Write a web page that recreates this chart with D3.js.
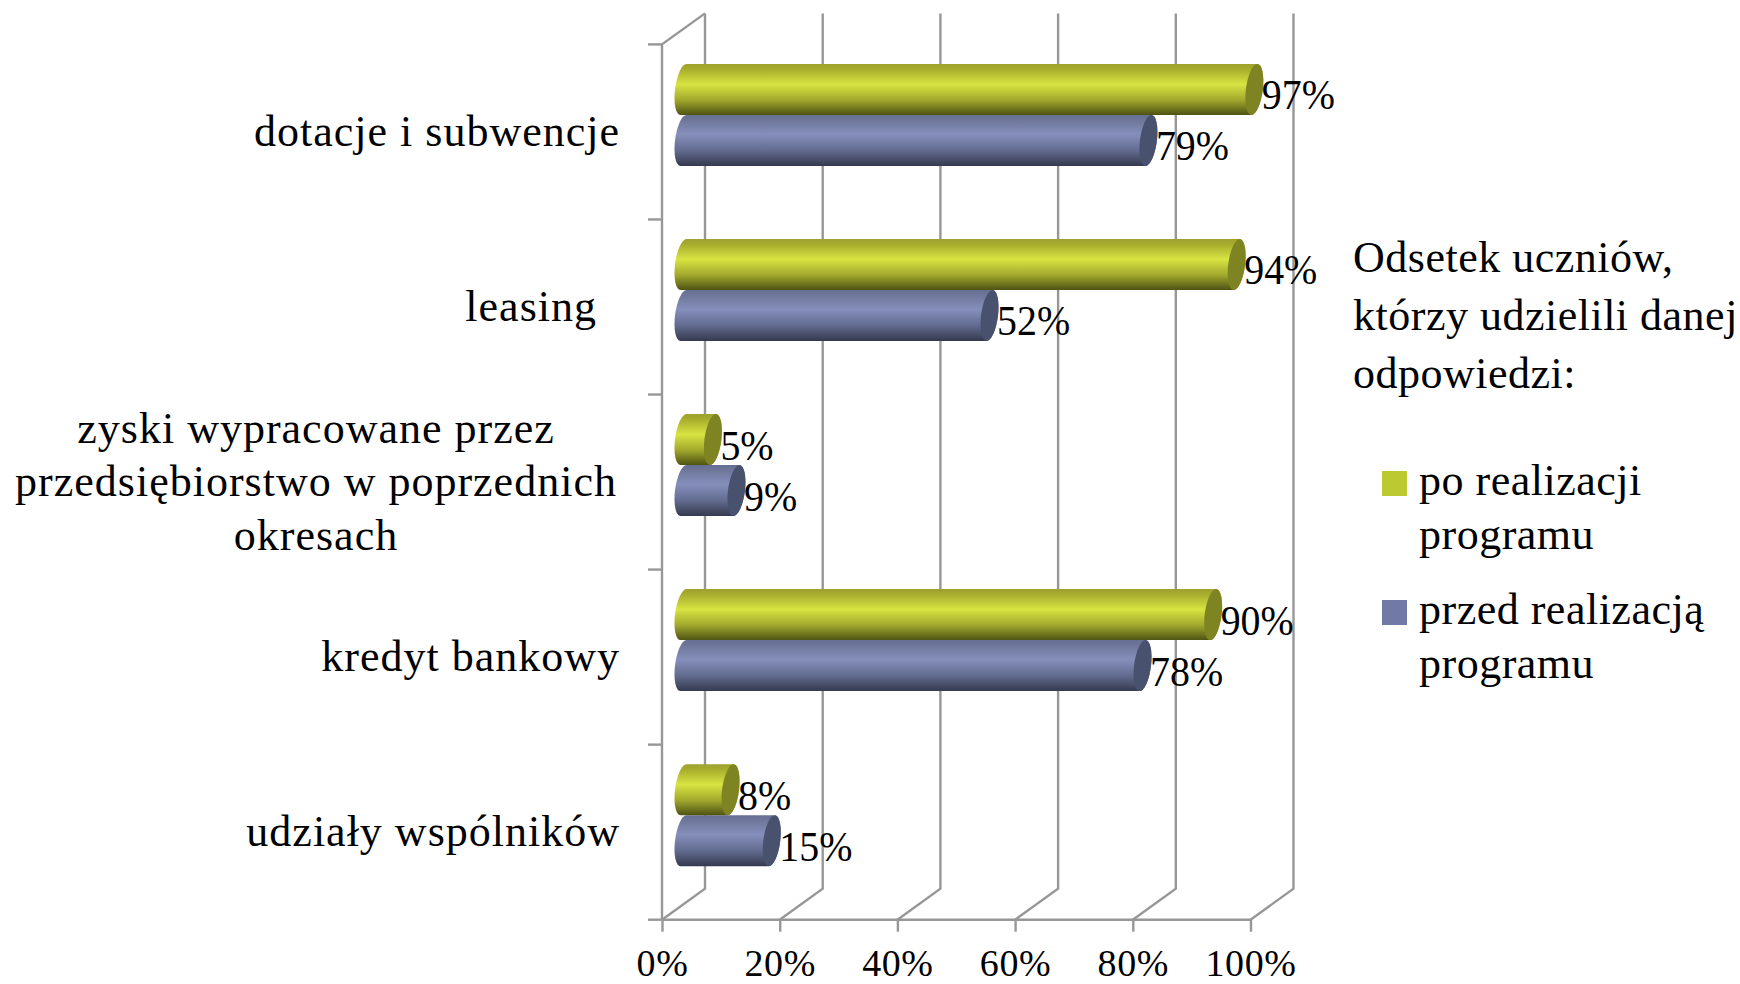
<!DOCTYPE html>
<html>
<head>
<meta charset="utf-8">
<script src="https://cdnjs.cloudflare.com/ajax/libs/d3/7.8.5/d3.min.js"></script>
<style>
	html, body { margin: 0; padding: 0; background: #fff; }
	svg { display: block; }
	text { font-family: "Liberation Serif", serif; fill: #000; }
	.domain { display: none; }
</style>
</head>
<body>
<script>
//Categories, top to bottom. Each entry is the lines of one axis label
var categories = ["dotacje", "leasing", "zyski", "kredyt", "udzialy"];
var categoryLines = [
	["dotacje i subwencje"],
	["leasing"],
	["zyski wypracowane przez", "przedsiębiorstwo w poprzednich", "okresach"],
	["kredyt bankowy"],
	["udziały wspólników"]
];

//Percent of pupils, in the order of categories
var poRealizacji = [97, 94, 5, 90, 8];
var przedRealizacja = [79, 52, 9, 78, 15];

var xTicks = [0, 20, 40, 60, 80, 100];

var legendTitle = ["Odsetek uczniów,", "którzy udzielili danej", "odpowiedzi:"];
var legendPo = ["po realizacji", "programu"];
var legendPrzed = ["przed realizacją", "programu"];

var width = 1740, height = 984;

//front plane of the fake 3d box, the back wall is moved by depthX, depthY
var front = {left: 662, right: 1250.5, top: 44.4, bottom: 919.7};
var depthX = 43, depthY = -31;
var gridColor = "#979797";

var svg = d3.select("body").append("svg")
.attr("width", width)
.attr("height", height);

var xScale = d3.scaleLinear()
.domain([0, 100])
.range([front.left, front.right]);

var yScale = d3.scaleBand()
.domain(categories)
.range([front.top, front.bottom]);

var seriesScale = d3.scaleBand()
.domain(["po", "przed"])
.range([-yScale.bandwidth() * 0.2914, yScale.bandwidth() * 0.2914]);

/*
Gradients of the cylinders, light band a bit above the middle, dark at the bottom.
*/
function makeGradient(id, stops){
	var grad = svg.append("defs").append("linearGradient")
	.attr("id", id)
	.attr("x1", 0).attr("x2", 0).attr("y1", 0).attr("y2", 1);

	grad.selectAll("stop")
	.data(stops)
	.enter()
	.append("stop")
	.attr("offset", function(d){ return d[0]; })
	.attr("stop-color", function(d){ return d[1]; });
}
makeGradient("gradPo", [[0, "#9ea12f"], [0.1, "#a6ac2c"], [0.4, "#d8e442"], [0.7, "#a3aa2c"], [0.92, "#656a1b"], [1, "#4f5312"]]);
makeGradient("gradPrzed", [[0, "#666f94"], [0.1, "#6e7799"], [0.38, "#858fbb"], [0.7, "#626b8f"], [0.92, "#41475f"], [1, "#343950"]]);

/*
The walls: grid lines on the back wall, the floor diagonals and the front axes.
*/
var walls = svg.append("g")
.attr("fill", "none")
.attr("stroke", gridColor)
.attr("stroke-width", 2.4);

walls.selectAll(".wall")
.data(xTicks)
.enter()
.append("path")
.attr("class", "wall")
.attr("d", function(d){
	var x = xScale(d);
	return "M" + x + "," + front.bottom
		+ "L" + (x + depthX) + "," + (front.bottom + depthY)
		+ "L" + (x + depthX) + "," + (front.top + depthY);
});

walls.append("path")
.attr("d", "M" + front.left + "," + front.bottom
	+ "V" + front.top
	+ "L" + (front.left + depthX) + "," + (front.top + depthY));

walls.append("path")
.attr("d", "M" + front.left + "," + front.bottom + "H" + front.right);

//category tick marks sit on the band edges
var edges = categories.map(function(d){ return yScale(d); }).concat([front.bottom]);

walls.selectAll(".catTick")
.data(edges)
.enter()
.append("line")
.attr("class", "catTick")
.attr("x1", front.left - 14)
.attr("x2", front.left)
.attr("y1", function(d){ return d; })
.attr("y2", function(d){ return d; });

//x axis
var xAxis = d3.axisBottom(xScale)
.tickValues(xTicks)
.tickSize(12)
.tickPadding(24)
.tickFormat(function(d){ return d + "%"; });

var xAxisGroup = svg.append("g")
.attr("transform", "translate(0," + front.bottom + ")")
.call(xAxis);

xAxisGroup.selectAll("line")
.attr("stroke", gridColor)
.attr("stroke-width", 2.4);

//pulled up a little so the text box stays inside the page
xAxisGroup.selectAll("text")
.style("font-family", '"Liberation Serif", serif')
.style("font-size", "38px")
.style("letter-spacing", "0.6px")
.attr("dy", null)
.attr("y", 56);

/*
One cylinder, sheared a little so the end caps lean like in the 3d original.
*/
function drawBar(parent, value, i, key, fill, capColor){
	var halfH = seriesScale.bandwidth() / 2;
	var rx = 8.5;
	var x0 = xScale(0) + depthX / 2;
	var x1 = xScale(value) + depthX / 2;
	var cy = yScale(categories[i]) + yScale.bandwidth() / 2 + depthY / 2 - 1.5 + seriesScale(key) + halfH;

	var bar = parent.append("g")
	.attr("transform", "translate(0," + cy + ") skewX(-6.7)");

	bar.append("path")
	.attr("fill", "url(#" + fill + ")")
	.attr("d", "M" + x0 + "," + (-halfH)
		+ "A" + rx + "," + halfH + " 0 0 0 " + x0 + "," + halfH
		+ "L" + x1 + "," + halfH
		+ "A" + rx + "," + halfH + " 0 0 0 " + x1 + "," + (-halfH)
		+ "Z");

	bar.append("ellipse")
	.attr("cx", x1)
	.attr("cy", 0)
	.attr("rx", rx)
	.attr("ry", halfH)
	.attr("fill", capColor);

	return {tip: x1 + rx, cy: cy};
}

var barLayer = svg.append("g");
var labelLayer = svg.append("g").attr("font-size", 42);

//blue first, the green one overlaps its upper edge
[
	{key: "przed", values: przedRealizacja, fill: "gradPrzed", cap: "#48526f"},
	{key: "po", values: poRealizacji, fill: "gradPo", cap: "#7f8423"}
].forEach(function(s){
	s.values.forEach(function(v, i){
		var placed = drawBar(barLayer, v, i, s.key, s.fill, s.cap);
		labelLayer.append("text")
		.attr("transform", "translate(" + (placed.tip - 1) + "," + (placed.cy + 20) + ") scale(0.95,1)")
		.text(v + "%");
	});
});

//category labels, multi line ones are centered on their widest line
var catLabels = svg.append("g")
.attr("font-size", 44)
.attr("letter-spacing", 1);

categoryLines.forEach(function(lines, i){
	var mid = yScale(categories[i]) + yScale.bandwidth() / 2;
	var multi = lines.length > 1;
	lines.forEach(function(line, j){
		catLabels.append("text")
		.attr("x", multi ? 316 : (i === 1 ? 597 : 620))
		.attr("y", mid + 14 + (j - (lines.length - 1) / 2) * 53.5)
		.attr("text-anchor", multi ? "middle" : "end")
		.text(line);
	});
});

//legend
var legend = svg.append("g")
.attr("font-size", 44)
.attr("letter-spacing", 0.5);

legendTitle.forEach(function(line, i){
	legend.append("text")
	.attr("x", 1353)
	.attr("y", 272 + i * 58)
	.text(line);
});

[
	{lines: legendPo, color: "#bcc931", y: 471},
	{lines: legendPrzed, color: "#717aa5", y: 600}
].forEach(function(item){
	legend.append("rect")
	.attr("x", 1382)
	.attr("y", item.y)
	.attr("width", 25)
	.attr("height", 25)
	.attr("fill", item.color);

	item.lines.forEach(function(line, i){
		legend.append("text")
		.attr("x", 1419)
		.attr("y", item.y + 24 + i * 54)
		.text(line);
	});
});
</script>
</body>
</html>
